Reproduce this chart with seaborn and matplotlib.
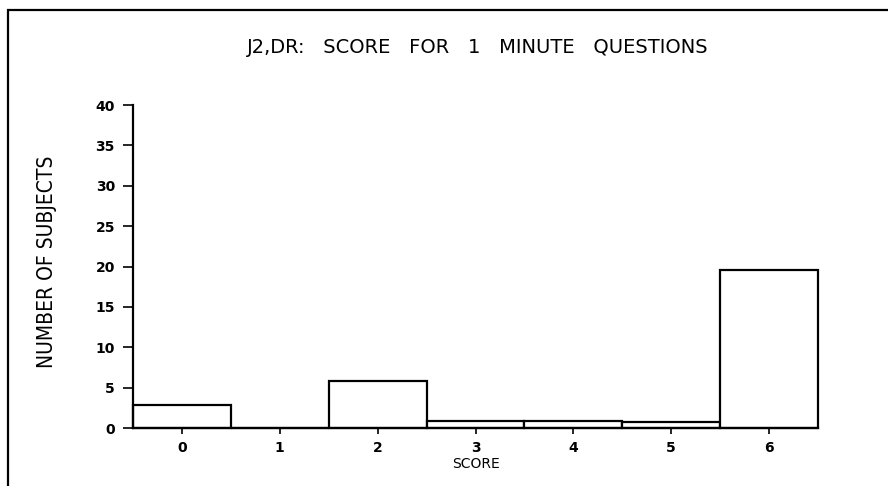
"""Histogram of 1-minute question scores (J2, DR)"""
import matplotlib
matplotlib.use("Agg")
import pandas as pd
import seaborn as sns
from matplotlib import pyplot as plt
from matplotlib.patches import Rectangle

# values
scores = ["0", "1", "2", "3", "4", "5", "6"]
subjects = [2.9, 0, 5.8, 0.9, 0.9, 0.75, 19.6]
y_ticks = [0, 5, 10, 15, 20, 25, 30, 35, 40]

df = pd.DataFrame({"score": scores, "subjects": subjects})

sns.set_style("white")
plt.rcParams["font.family"] = ["DejaVu Sans"]
plt.rcParams["text.color"] = "black"
plt.rcParams["xtick.color"] = "black"
plt.rcParams["ytick.color"] = "black"
plt.rcParams["axes.labelcolor"] = "black"

fig = plt.figure(figsize=(8.88, 4.86), dpi=100)
ax = fig.add_axes([0.1498, 0.1193, 0.7714, 0.6646])

sns.barplot(data=df, x="score", y="subjects", order=scores, width=1.0,
            color="white", edgecolor="black", linewidth=1.6, ax=ax)
for bar in ax.patches:
    bar.set_clip_on(False)

ax.set_xlim(-0.5, 6.5)
ax.set_ylim(0, 40)
ax.set_yticks(y_ticks)
ax.set_yticklabels([str(t) for t in y_ticks], fontsize=10, fontweight="bold")
ax.set_xticks(range(len(scores)))
ax.set_xticklabels(scores, fontsize=10, fontweight="bold")
ax.tick_params(axis="y", direction="out", length=7, width=1.2, left=True, pad=6)
ax.tick_params(axis="x", direction="out", length=4, width=1.2, bottom=True, pad=5)

for side in ["top", "right"]:
    ax.spines[side].set_visible(False)
for side in ["left", "bottom"]:
    ax.spines[side].set_linewidth(1.6)
    ax.spines[side].set_color("black")

ax.set_xlabel("SCORE", fontsize=10, labelpad=2)
ax.set_ylabel("")
fig.text(47 / 888, 1 - 262 / 486, "NUMBER OF SUBJECTS", rotation=90,
         ha="center", va="center", fontsize=15, fontstretch="condensed")
fig.text(478 / 888, 1 - 47 / 486, "J2,DR:   SCORE   FOR   1   MINUTE   QUESTIONS",
         ha="center", va="center", fontsize=14)

# outer frame of the original printout
fig.patches.append(Rectangle((8 / 888, -0.02), 1.0, 1 - 10 / 486 + 0.02,
                             transform=fig.transFigure, fill=False,
                             edgecolor="black", linewidth=1.6))

fig.savefig("out.png", dpi=100, facecolor="white")
